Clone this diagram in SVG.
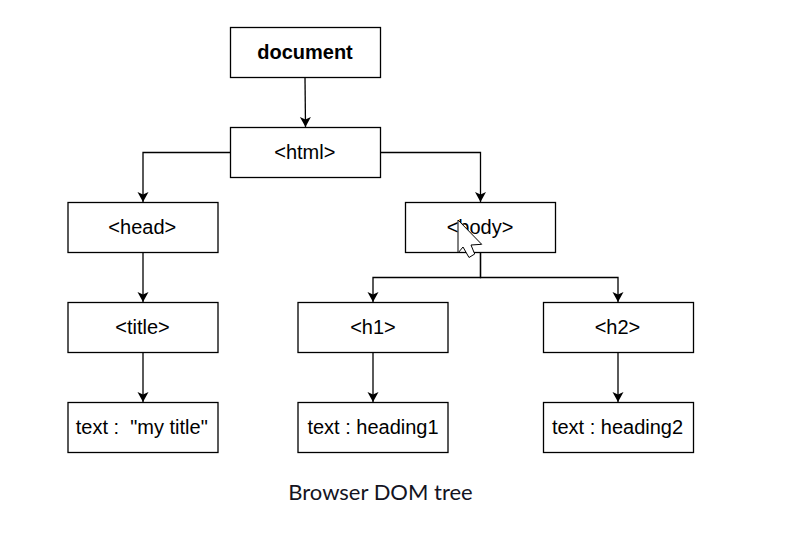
<svg xmlns="http://www.w3.org/2000/svg" width="799" height="544" viewBox="0 0 799 544">
<style>
.n rect{fill:#fff;stroke:#000;stroke-width:1.3}
.n text{font-family:"Liberation Sans",Arial,sans-serif;font-size:20px;text-anchor:middle;fill:#000}
.c path{fill:none;stroke:#000;stroke-width:1.3;marker-end:url(#a)}
</style>
<defs><marker id="a" markerUnits="userSpaceOnUse" markerWidth="12" markerHeight="14" refX="10" refY="6" orient="auto"><path d="M0 0.500L10 6L0 11.500L2.500 6Z" fill="#000" stroke="none" style="marker-end:none"/></marker></defs>
<rect width="799" height="544" fill="#fff"/>
<g id="connectors" class="c">
<path d="M305 77.500L305.500 127"/>
<path d="M230 152.500H143V202"/>
<path d="M380.500 152.500H480.500V202"/>
<path d="M143 252.500V302"/>
<path d="M143 352.500V402"/>
<path d="M480.500 252.500V277.500H373V302"/>
<path d="M480.500 252.500V277.500H618V302"/>
<path d="M373 352.500V402"/>
<path d="M618 352.500V402"/>
</g>
<g id="document" class="n"><rect x="230.500" y="27.500" width="150" height="50"/><text x="305" y="59" font-weight="bold">document</text></g>
<g id="html" class="n"><rect x="230.500" y="127.500" width="150" height="50"/><text x="304.800" y="158.500">&lt;html&gt;</text></g>
<g id="head" class="n"><rect x="68" y="202.500" width="150" height="50"/><text x="142.300" y="233.500">&lt;head&gt;</text></g>
<g id="body" class="n"><rect x="405.500" y="202.500" width="150" height="50"/><text x="480" y="233.500">&lt;body&gt;</text></g>
<g id="title" class="n"><rect x="68" y="302.500" width="150" height="50"/><text x="142.500" y="333.500">&lt;title&gt;</text></g>
<g id="h1" class="n"><rect x="298" y="302.500" width="150" height="50"/><text x="373" y="333.500">&lt;h1&gt;</text></g>
<g id="h2" class="n"><rect x="543.500" y="302.500" width="150" height="50"/><text x="617.500" y="333.500">&lt;h2&gt;</text></g>
<g id="text-title" class="n"><rect x="68" y="402.500" width="150" height="50"/><text x="141.800" y="433.500" xml:space="preserve">text :  "my title"</text></g>
<g id="text-h1" class="n"><rect x="298" y="402.500" width="150" height="50"/><text x="373" y="433.500">text : heading1</text></g>
<g id="text-h2" class="n"><rect x="543.500" y="402.500" width="150" height="50"/><text x="617.500" y="433.500">text : heading2</text></g>
<path id="cursor" d="M458 220V253L463 247L469 257.500L474.700 254L471 245L481.700 244.300Z" fill="#fff" stroke="#000" stroke-width="1"/>
<text x="380.500" y="499.500" font-family="Lato,sans-serif" font-size="22" text-anchor="middle" fill="#14141f">Browser DOM tree</text>
</svg>
